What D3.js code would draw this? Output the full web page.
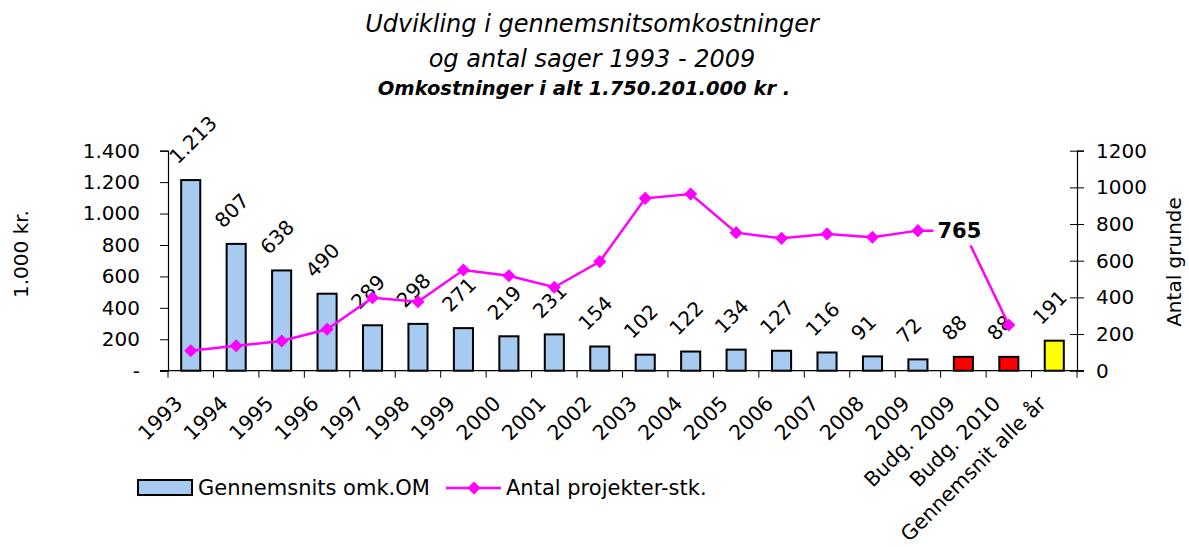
<!DOCTYPE html>
<html>
<head>
<meta charset="utf-8">
<script src="https://cdn.jsdelivr.net/npm/d3@7"></script>
<style>
  body { margin: 0; background: #fff; }
  svg text { font-family: "DejaVu Sans", Verdana, sans-serif; fill: #000; }
</style>
</head>
<body>
<svg id="chart" width="1189" height="547"></svg>
<script>
// data
let categories = ["1993", "1994", "1995", "1996", "1997", "1998", "1999", "2000", "2001", "2002",
                  "2003", "2004", "2005", "2006", "2007", "2008", "2009", "Budg. 2009", "Budg. 2010", "Gennemsnit alle år"];
let avgCost = [1213, 807, 638, 490, 289, 298, 271, 219, 231, 154, 102, 122, 134, 127, 116, 91, 72, 88, 88, 191];
let projectCount = [109, 136, 162, 226, 398, 376, 549, 518, 455, 595, 940, 964, 753, 722, 746, 728, 764, 765, 249, null];
let leftTicks = [0, 200, 400, 600, 800, 1000, 1200, 1400];
let rightTicks = [0, 200, 400, 600, 800, 1000, 1200];

let plotLeft = 168, plotRight = 1077, plotTop = 150.7, plotBottom = 370.7;

let svg = d3.select("#chart");

let x = d3.scaleBand()
    .domain(categories)
    .range([plotLeft, plotRight])
    .paddingInner(0.58)
    .paddingOuter(0.29);

let yLeft = d3.scaleLinear().domain([0, 1400]).range([plotBottom, plotTop]);
let yRight = d3.scaleLinear().domain([0, 1200]).range([plotBottom, plotTop]);

let fmt = v => v === 0 ? "-" : d3.format(",")(v).replace(/,/g, ".");

function barColor(cat) {
    if (cat.startsWith("Budg")) return "#ff0000";
    if (cat.startsWith("Gennemsnit")) return "#ffff00";
    return "#a6caf0";
}

// titles
svg.append("text")
    .attr("x", 592).attr("y", 32)
    .attr("text-anchor", "middle")
    .style("font-size", "24px").style("font-style", "italic")
    .text("Udvikling i gennemsnitsomkostninger");
svg.append("text")
    .attr("x", 592).attr("y", 67)
    .attr("text-anchor", "middle")
    .style("font-size", "24px").style("font-style", "italic")
    .text("og antal sager 1993 - 2009");
svg.append("text")
    .attr("x", 584).attr("y", 95)
    .attr("text-anchor", "middle")
    .style("font-size", "19.5px").style("font-style", "italic").style("font-weight", "bold")
    .text("Omkostninger i alt 1.750.201.000 kr .");

// left axis
let leftAxis = svg.append("g")
    .attr("transform", "translate(" + plotLeft + ",0)")
    .call(d3.axisLeft(yLeft).tickValues(leftTicks).tickFormat(fmt).tickSizeOuter(0).tickSize(8).tickPadding(20));
leftAxis.select(".domain").attr("stroke", "#000").attr("stroke-width", 1.2);
leftAxis.selectAll(".tick line").attr("stroke", "#000");
leftAxis.selectAll("text").style("font-size", "20px").attr("fill", "#000");

// right axis
let rightAxis = svg.append("g")
    .attr("transform", "translate(" + plotRight + ",0)")
    .call(d3.axisRight(yRight).tickValues(rightTicks).tickFormat(d3.format("d")).tickSizeOuter(0).tickSize(7).tickPadding(12));
rightAxis.select(".domain").attr("stroke", "#000").attr("stroke-width", 1.2);
rightAxis.selectAll(".tick line").attr("stroke", "#000").attr("x1", -7);
rightAxis.selectAll("text").style("font-size", "20px").attr("fill", "#000");

// axis titles
svg.append("text")
    .attr("transform", "translate(28,254) rotate(-90)")
    .attr("text-anchor", "middle")
    .style("font-size", "20px")
    .text("1.000 kr.");
svg.append("text")
    .attr("transform", "translate(1181,262) rotate(-90)")
    .attr("text-anchor", "middle")
    .style("font-size", "20px")
    .text("Antal grunde");

// bars
svg.selectAll(".bar")
    .data(categories)
  .enter().append("rect")
    .attr("class", "bar")
    .attr("x", d => x(d))
    .attr("width", x.bandwidth())
    .attr("y", (d, i) => yLeft(avgCost[i]))
    .attr("height", (d, i) => plotBottom - yLeft(avgCost[i]))
    .attr("fill", d => barColor(d))
    .attr("stroke", "#000")
    .attr("stroke-width", 2);

// x axis line + ticks between categories
let step = x.step();
svg.append("line")
    .attr("x1", plotLeft - 8).attr("x2", plotRight + 7)
    .attr("y1", plotBottom).attr("y2", plotBottom)
    .attr("stroke", "#000").attr("stroke-width", 1.2);
svg.selectAll(".xtick")
    .data(d3.range(categories.length + 1))
  .enter().append("line")
    .attr("class", "xtick")
    .attr("x1", i => plotLeft + i * step)
    .attr("x2", i => plotLeft + i * step)
    .attr("y1", plotBottom).attr("y2", plotBottom + 7)
    .attr("stroke", "#000");

// category labels
svg.selectAll(".xlabel")
    .data(categories)
  .enter().append("text")
    .attr("class", "xlabel")
    .attr("text-anchor", "end")
    .attr("transform", d => "translate(" + (x(d) + x.bandwidth() / 2 - 7) + "," + (plotBottom + 34) + ") rotate(-45)")
    .style("font-size", "20.5px")
    .text(d => d);

// bar value labels
svg.selectAll(".barlabel")
    .data(categories)
  .enter().append("text")
    .attr("class", "barlabel")
    .attr("transform", (d, i) => "translate(" + (x(d) + x.bandwidth() / 2 - 13) + "," + (yLeft(avgCost[i]) - 15) + ") rotate(-45)")
    .style("font-size", "20px")
    .text((d, i) => fmt(avgCost[i]));

// line series
let cx = d => x(d) + x.bandwidth() / 2;
let linePts = categories.map((d, i) => ({cat: d, v: projectCount[i]})).filter(p => p.v !== null);

svg.append("path")
    .datum(linePts)
    .attr("fill", "none")
    .attr("stroke", "#ff00ff")
    .attr("stroke-width", 2.5)
    .attr("d", d3.line().x(p => cx(p.cat)).y(p => yRight(p.v)));

svg.selectAll(".marker")
    .data(linePts)
  .enter().append("path")
    .attr("class", "marker")
    .attr("transform", p => "translate(" + cx(p.cat) + "," + yRight(p.v) + ")")
    .attr("d", d3.symbol(d3.symbolDiamond2, 110))
    .attr("fill", "#ff00ff");

// highlighted label on Budg. 2009 point
let hl = linePts.find(p => p.cat === "Budg. 2009");
svg.append("rect")
    .attr("x", cx(hl.cat) - 30).attr("y", yRight(hl.v) - 17)
    .attr("width", 54).attr("height", 32)
    .attr("fill", "#fff");
svg.append("text")
    .attr("x", cx(hl.cat) - 4).attr("y", yRight(hl.v) + 8)
    .attr("text-anchor", "middle")
    .style("font-size", "21px").style("font-weight", "bold")
    .text(hl.v);

// legend
let legend = svg.append("g");
legend.append("rect")
    .attr("x", 138).attr("y", 480).attr("width", 54).attr("height", 15)
    .attr("fill", "#a6caf0").attr("stroke", "#000").attr("stroke-width", 2);
legend.append("text")
    .attr("x", 198).attr("y", 495)
    .style("font-size", "21px")
    .text("Gennemsnits omk.OM");
legend.append("line")
    .attr("x1", 446).attr("x2", 501).attr("y1", 488).attr("y2", 488)
    .attr("stroke", "#ff00ff").attr("stroke-width", 2.5);
legend.append("path")
    .attr("transform", "translate(474,488)")
    .attr("d", d3.symbol(d3.symbolDiamond2, 110))
    .attr("fill", "#ff00ff");
legend.append("text")
    .attr("x", 506).attr("y", 495)
    .style("font-size", "21px")
    .text("Antal projekter-stk.");
</script>
</body>
</html>
